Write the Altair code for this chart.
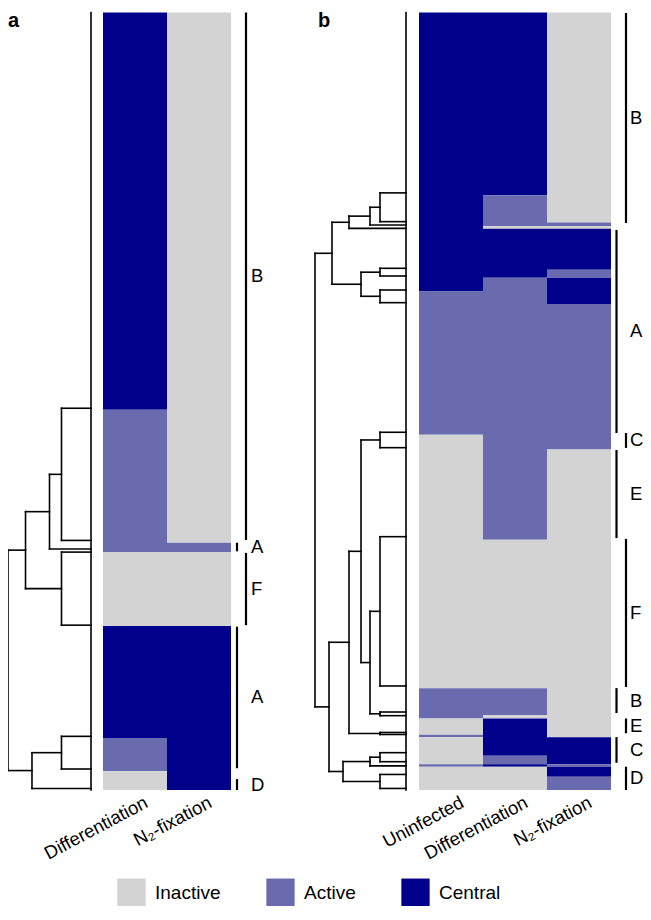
import altair as alt
import pandas as pd

FONT = "Liberation Sans"
STATES = ["Inactive", "Active", "Central"]
STATE_COLORS = ["#d3d3d3", "#6a6baf", "#00008b"]

# ---------------- panel a ----------------
a_columns = ["Differentiation", "N₂-fixation"]
# row-block boundaries (percent of genes, top to bottom)
a_bounds = [0, 51.1, 68.2, 69.4, 78.9, 93.3, 97.6, 100]
a_diff = ["Central", "Active", "Active", "Inactive", "Central", "Active", "Inactive"]
a_n2 = ["Inactive", "Inactive", "Active", "Inactive", "Central", "Central", "Central"]

# dendrogram merges: height, left child (y, height), right child (y, height)
a_merge_h = [3.2, 4.5, 3.2, 7.1, 3.2, 6.4, 9.0]
a_left_y = [50.9, 59.4, 69.4, 64.2, 93.1, 95.2, 69.15]
a_left_h = [0, 3.2, 0, 4.5, 0, 3.2, 7.1]
a_right_y = [67.9, 69.0, 78.8, 74.1, 97.3, 99.8, 97.5]
a_right_h = [0, 0, 0, 3.2, 0, 0, 6.4]

# cluster brackets
a_clusters = ["B", "A", "F", "A", "D"]
a_clu_start = [0.0, 68.2, 69.5, 79.0, 98.6]
a_clu_end = [67.85, 69.3, 78.8, 97.2, 100.0]
a_clu_lane = [1, 0, 1, 0, 0]

# ---------------- panel b ----------------
b_columns = ["Uninfected", "Differentiation", "N₂-fixation"]
b_bounds = [0, 23.5, 27.0, 27.5, 27.8, 33.1, 34.1, 35.9, 37.5, 54.3, 56.2, 67.8,
            86.9, 90.4, 90.8, 92.9, 93.2, 95.6, 96.7, 97.0, 98.3, 100]
b_uninf = ["Central", "Central", "Central", "Central", "Central", "Central", "Central",
           "Active", "Active", "Inactive", "Inactive", "Inactive", "Active", "Active",
           "Inactive", "Active", "Inactive", "Inactive", "Active", "Inactive", "Inactive"]
b_diff = ["Central", "Active", "Active", "Inactive", "Central", "Central", "Active",
          "Active", "Active", "Active", "Active", "Inactive", "Active", "Inactive",
          "Central", "Central", "Central", "Active", "Central", "Inactive", "Inactive"]
b_n2 = ["Inactive", "Inactive", "Active", "Inactive", "Central", "Active", "Central",
        "Central", "Active", "Active", "Inactive", "Inactive", "Inactive", "Inactive",
        "Inactive", "Inactive", "Central", "Central", "Active", "Central", "Active"]

b_merge_h = [2.6, 3.6, 5.7, 2.6, 2.6, 4.5, 7.4, 2.6, 2.6, 2.6, 3.6, 4.5, 2.6, 5.7,
             2.6, 3.6, 2.6, 6.3, 7.7, 9.1]
b_left_y = [23.2, 25.05, 26.19, 32.9, 35.69, 33.4, 26.98, 53.99, 67.42, 89.97, 77.02,
            54.98, 92.6, 69.3, 95.2, 95.78, 98.0, 96.34, 81.0, 30.97]
b_left_h = [0, 2.6, 3.6, 0, 0, 2.6, 5.7, 0, 0, 0, 2.6, 2.6, 0, 4.5, 0, 2.6, 0, 3.6,
            5.7, 7.4]
b_right_y = [26.9, 27.33, 27.76, 33.89, 37.32, 36.5, 34.95, 55.97, 86.62, 90.44, 90.2,
             83.61, 92.86, 92.73, 96.36, 96.9, 99.8, 98.9, 97.62, 89.31]
b_right_h = [0, 0, 0, 0, 0, 2.6, 4.5, 0, 0, 0, 2.6, 3.6, 0, 2.6, 0, 0, 0, 2.6, 6.3,
             7.7]

b_clusters = ["B", "A", "C", "E", "F", "B", "E", "C", "D"]
b_clu_start = [0.06, 27.97, 54.08, 56.27, 67.7, 86.9, 90.8, 93.2, 97.0]
b_clu_end = [27.07, 54.08, 56.0, 67.6, 86.75, 90.1, 92.7, 96.5, 100.0]
b_clu_lane = [1, 0, 1, 0, 1, 0, 1, 0, 1]

# ---------------- building blocks ----------------
Y = alt.Scale(domain=[0, 100], range=[4.5, 782])

color_enc = alt.Color(
    "state:N",
    scale=alt.Scale(domain=STATES, range=STATE_COLORS),
    legend=alt.Legend(
        title=None, orient="none", direction="horizontal",
        legendX=109, legendY=870,
        symbolType="square", symbolSize=800, symbolStrokeWidth=0, symbolOpacity=1,
        labelFont=FONT, labelFontSize=19, labelColor="black", labelOffset=9,
        columnPadding=45, labelLimit=200,
    ),
)


def dendro_layer(h, ly, lh, ry, rh, xrange, hmax):
    rows = []
    for hh, a, ah, b, bh in zip(h, ly, lh, ry, rh):
        rows.append(dict(x=hh, x2=hh, y=a, y2=b))
        rows.append(dict(x=ah, x2=hh, y=a, y2=a))
        rows.append(dict(x=bh, x2=hh, y=b, y2=b))
    rows.append(dict(x=0, x2=0, y=0, y2=100))
    df = pd.DataFrame(rows)
    xs = alt.Scale(domain=[0, hmax], range=xrange)
    return alt.Chart(df).mark_rule(color="black", strokeWidth=1.6, strokeCap="square").encode(
        x=alt.X("x:Q", scale=xs, axis=None),
        x2="x2:Q",
        y=alt.Y("y:Q", scale=Y, axis=None),
        y2="y2:Q",
    )


def heat_layer(cols, col_states, bounds, xrange):
    rows = []
    for i, c in enumerate(cols):
        states = col_states[i]
        j = 0
        while j < len(states):
            k = j
            while k + 1 < len(states) and states[k + 1] == states[j]:
                k += 1
            rows.append(dict(col=c, x0=i, x1=i + 1, y0=bounds[j], y1=bounds[k + 1],
                             state=states[j]))
            j = k + 1
    df = pd.DataFrame(rows)
    xs = alt.Scale(domain=[0, len(cols)], range=xrange)
    rect = alt.Chart(df).mark_rect().encode(
        x=alt.X("x0:Q", scale=xs, axis=None),
        x2="x1:Q",
        y=alt.Y("y0:Q", scale=Y, axis=None),
        y2="y1:Q",
        color=color_enc,
    )
    lab = pd.DataFrame(dict(col=cols, xc=[i + 0.5 for i in range(len(cols))]))
    text = alt.Chart(lab).mark_text(
        angle=332, align="right", baseline="top", fontSize=18.5, font=FONT, dx=8, color="black"
    ).encode(
        x=alt.X("xc:Q", scale=xs, axis=None),
        y=alt.value(789),
        text="col:N",
    )
    return alt.layer(rect, text)


def bracket_layer(labels, starts, ends, lanes, xrange, label_x):
    df = pd.DataFrame(dict(label=labels, y0=starts, y1=ends, lane=lanes))
    df["mid"] = (df["y0"] + df["y1"]) / 2
    xs = alt.Scale(domain=[0, 1], range=xrange)
    rules = alt.Chart(df).mark_rule(color="black", strokeWidth=2.2).encode(
        x=alt.X("lane:Q", scale=xs, axis=None),
        y=alt.Y("y0:Q", scale=Y, axis=None),
        y2="y1:Q",
    )
    text = alt.Chart(df).mark_text(
        align="left", baseline="middle", fontSize=18.5, font=FONT, color="black"
    ).encode(
        x=alt.value(label_x),
        y=alt.Y("mid:Q", scale=Y, axis=None),
        text="label:N",
    )
    return alt.layer(rules, text)


dendro_a = dendro_layer(a_merge_h, a_left_y, a_left_h, a_right_y, a_right_h, [83, 0], 9.0)
heat_a = heat_layer(a_columns, [a_diff, a_n2], a_bounds, [95, 223])
brackets_a = bracket_layer(a_clusters, a_clu_start, a_clu_end, a_clu_lane, [229, 238], 243)

dendro_b = dendro_layer(b_merge_h, b_left_y, b_left_h, b_right_y, b_right_h, [398, 298], 10.0)
heat_b = heat_layer(b_columns, [b_uninf, b_diff, b_n2], b_bounds, [411, 603])
brackets_b = bracket_layer(b_clusters, b_clu_start, b_clu_end, b_clu_lane, [608.5, 618], 622)

letter_a = alt.Chart(pd.DataFrame(dict(t=["a"]))).mark_text(
    align="left", baseline="alphabetic", fontSize=20, fontWeight="bold", font=FONT, color="black"
).encode(x=alt.value(0), y=alt.value(19), text="t:N")
letter_b = alt.Chart(pd.DataFrame(dict(t=["b"]))).mark_text(
    align="left", baseline="alphabetic", fontSize=20, fontWeight="bold", font=FONT, color="black"
).encode(x=alt.value(310), y=alt.value(19), text="t:N")

chart = (
    alt.layer(dendro_a, heat_a, brackets_a, dendro_b, heat_b, brackets_b, letter_a, letter_b)
    .resolve_scale(x="independent")
    .properties(width=635, height=898, padding=0, autosize=alt.AutoSizeParams(type="none"))
    .configure_view(strokeWidth=0)
)

chart.save("out.html", embed_options={"renderer": "svg", "actions": False})
